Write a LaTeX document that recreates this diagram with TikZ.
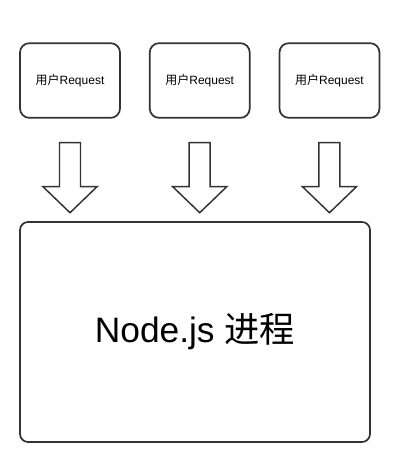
\documentclass[tikz,border=0pt]{standalone}
\usepackage{fontspec}
\setmainfont{Liberation Sans}
\newfontfamily\cjk{Noto Sans CJK SC}
\usepackage{tikz}
\usetikzlibrary{positioning}
\definecolor{linegray}{HTML}{333333}

\begin{document}
\begin{tikzpicture}[x=0.75pt, y=-0.75pt,
      reqbox/.style={draw=linegray, line width=1.3pt, rounded corners=7pt, minimum width=75pt, minimum height=56pt, font=\fontsize{9}{11}\selectfont},
      procbox/.style={draw=linegray, line width=1.3pt, rounded corners=6pt, minimum width=262.5pt, minimum height=165pt, font=\fontsize{26.5}{30}\selectfont},
      blockarrow/.style={draw=linegray, line width=1.1pt, fill=white}]
   \useasboundingbox (0,0) rectangle (400,462);
   \node[reqbox] (req1) at (70,80.5) {{\cjk 用户}Request};
   \node[reqbox, right=21pt of req1] (req2) {{\cjk 用户}Request};
   \node[reqbox, right=21pt of req2] (req3) {{\cjk 用户}Request};
   \node[procbox] (proc) at (195,332) {Node.js {\cjk 进程}};
   \foreach \i in {1,2,3} {
      \draw[blockarrow, shift={(req\i.south)}] (-10.5,24) -- (10.5,24) -- (10.5,68) -- (27,68)
         -- (0,94) -- (-27,68) -- (-10.5,68) -- cycle;
   }
\end{tikzpicture}
\end{document}
